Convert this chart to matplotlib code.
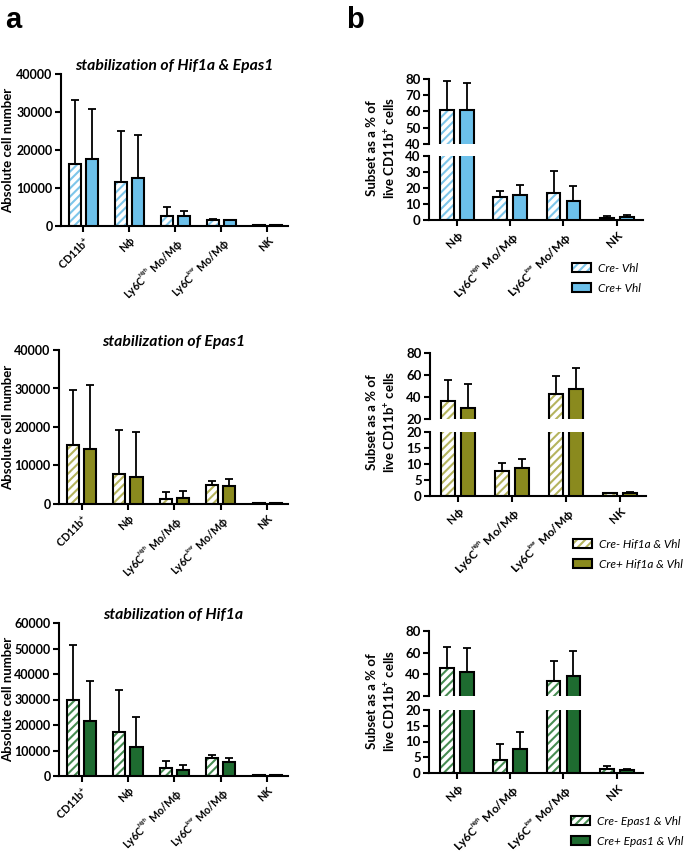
import matplotlib
matplotlib.use('Agg')
import matplotlib.pyplot as plt
import numpy as np
from matplotlib.patches import Patch

plt.rcParams['font.family'] = ['Lato', 'DejaVu Sans']
plt.rcParams['font.weight'] = 'bold'
plt.rcParams['mathtext.fontset'] = 'custom'
plt.rcParams['mathtext.rm'] = 'Lato:bold'
plt.rcParams['mathtext.it'] = 'Lato:bold:italic'
plt.rcParams['mathtext.bf'] = 'Lato:bold'
plt.rcParams['hatch.linewidth'] = 1.5

# ---------------- data ----------------
cats_a = ['CD11b$^{+}$', 'N\u03d5', 'Ly6C$^{{}^{high}}$ Mo/M\u03d5', 'Ly6C$^{{}^{low}}$ Mo/M\u03d5', 'NK']
cats_b = ['N\u03d5', 'Ly6C$^{{}^{high}}$ Mo/M\u03d5', 'Ly6C$^{{}^{low}}$ Mo/M\u03d5', 'NK']

titles_a = ['stabilization of Hif1a & Epas1', 'stabilization of Epas1', 'stabilization of Hif1a']

# panel a (absolute cell number): Cre- (hatched) and Cre+ (solid), mean and SD
a1_neg = [16200, 11600, 2500, 1600, 300]
a1_neg_sd = [17000, 13300, 2400, 150, 50]
a1_pos = [17700, 12500, 2600, 1500, 300]
a1_pos_sd = [13200, 11400, 1400, 100, 50]

a2_neg = [15400, 7700, 1400, 5000, 150]
a2_neg_sd = [14200, 11400, 1600, 1100, 30]
a2_pos = [14300, 7000, 1500, 4600, 150]
a2_pos_sd = [16600, 11800, 1900, 1800, 30]

a3_neg = [29800, 17100, 3300, 6900, 300]
a3_neg_sd = [21400, 16800, 2400, 1200, 50]
a3_pos = [21500, 11300, 2500, 5600, 300]
a3_pos_sd = [15700, 11900, 1800, 1400, 50]

# panel b (% of live CD11b+ cells)
b1_neg = [60.7, 14.6, 16.7, 1.5]
b1_neg_sd = [18.1, 3.5, 14.1, 1.0]
b1_pos = [60.9, 15.6, 12.1, 1.7]
b1_pos_sd = [16.8, 6.3, 9.4, 1.4]

b2_neg = [36.3, 7.9, 43.1, 0.9]
b2_neg_sd = [19.0, 2.4, 16.2, 0.1]
b2_pos = [30.1, 8.6, 47.0, 0.9]
b2_pos_sd = [21.7, 3.1, 19.4, 0.2]

b3_neg = [45.8, 4.2, 33.9, 1.3]
b3_neg_sd = [19.0, 5.0, 18.3, 0.8]
b3_pos = [42.1, 7.6, 38.8, 1.1]
b3_pos_sd = [22.4, 5.3, 22.6, 0.3]

legend_b = [['Cre- Vhl', 'Cre+ Vhl'],
            ['Cre- Hif1a & Vhl', 'Cre+ Hif1a & Vhl'],
            ['Cre- Epas1 & Vhl', 'Cre+ Epas1 & Vhl']]

# colours: (solid, hatch)
colors = [('#6CC0EA', '#7EC6EA'), ('#8A8A1E', '#B5B45E'), ('#1E6B30', '#478C52')]

# ---------------- layout ----------------
W, H = 685, 855
fig = plt.figure(figsize=(W / 100, H / 100), dpi=100)


def fr(l, t, r, b):
    return [l / W, 1 - b / H, (r - l) / W, (b - t) / H]


def style_ax(ax, lw=1.5, fs=7.5):
    for s in ['top', 'right']:
        ax.spines[s].set_visible(False)
    for s in ['left', 'bottom']:
        ax.spines[s].set_linewidth(lw)
    ax.tick_params(width=lw, length=4.5, labelsize=fs, pad=1.5)


def draw_bars(ax, x, neg, neg_sd, pos, pos_sd, col, hcol, width, off):
    neg = np.asarray(neg); pos = np.asarray(pos)
    ax.bar(x - off, neg, width, color='white', edgecolor=hcol, hatch='////', linewidth=0, zorder=2)
    ax.bar(x - off, neg, width, fill=False, edgecolor='black', linewidth=1.5, zorder=3)
    ax.bar(x + off, pos, width, color=col, edgecolor='black', linewidth=1.5, zorder=3)
    ax.errorbar(x - off, neg, yerr=[np.zeros_like(neg), neg_sd], fmt='none', ecolor='black',
                elinewidth=1.3, capsize=3, capthick=1.3, zorder=1)
    ax.errorbar(x + off, pos, yerr=[np.zeros_like(pos), pos_sd], fmt='none', ecolor='black',
                elinewidth=1.3, capsize=3, capthick=1.3, zorder=1)


# ---- panel a ----
a_data = [(a1_neg, a1_neg_sd, a1_pos, a1_pos_sd, 40000, 10000),
          (a2_neg, a2_neg_sd, a2_pos, a2_pos_sd, 40000, 10000),
          (a3_neg, a3_neg_sd, a3_pos, a3_pos_sd, 60000, 10000)]
a_rects = [(61, 74, 288, 226), (59, 350, 288, 504), (59, 623, 288, 776)]
a_title_y = [66, 342, 615]

xa = np.arange(len(cats_a))
for i, (d, rect) in enumerate(zip(a_data, a_rects)):
    ax = fig.add_axes(fr(*rect))
    neg, neg_sd, pos, pos_sd, ymax, step = d
    draw_bars(ax, xa, neg, neg_sd, pos, pos_sd, colors[i][0], colors[i][1], 0.26, 0.185)
    ax.set_xlim(-0.485, 4.45)
    ax.set_ylim(0, ymax)
    ax.set_yticks(np.arange(0, ymax + 1, step))
    ax.set_xticks(xa)
    ax.set_xticklabels(cats_a, rotation=45, ha='right', va='top', rotation_mode='anchor')
    style_ax(ax, fs=9)
    ax.tick_params(axis='x', pad=2, labelsize=7.7)
    cx = (rect[0] + rect[2]) / 2
    fig.text(cx / W, 1 - a_title_y[i] / H, titles_a[i], ha='center', va='center',
             fontsize=11.3, fontweight='bold', style='italic')
    fig.text(8 / W, 1 - ((rect[1] + rect[3]) / 2) / H, 'Absolute cell number', rotation=90,
             ha='center', va='center', fontsize=9.5, fontweight='bold')

# ---- panel b ----
b_data = [(b1_neg, b1_neg_sd, b1_pos, b1_pos_sd),
          (b2_neg, b2_neg_sd, b2_pos, b2_pos_sd),
          (b3_neg, b3_neg_sd, b3_pos, b3_pos_sd)]
b_upper = [(429, 79, 643, 144), (430, 353, 646, 419), (429, 631, 643, 696)]
b_lower = [(429, 156, 643, 220), (430, 432, 646, 496), (429, 710, 643, 773)]
b_break = [40, 20, 20]
b_upticks = [np.arange(40, 81, 10), np.arange(20, 81, 20), np.arange(20, 81, 20)]
b_lowticks = [np.arange(0, 41, 10), np.arange(0, 21, 5), np.arange(0, 21, 5)]
b_ylab_y = [148, 422, 701]
b_leg = [(572, 263), (573, 539), (571, 816)]

xb = np.arange(len(cats_b))
for i, d in enumerate(b_data):
    neg, neg_sd, pos, pos_sd = d
    axu = fig.add_axes(fr(*b_upper[i]))
    axl = fig.add_axes(fr(*b_lower[i]))
    for ax in (axu, axl):
        draw_bars(ax, xb, neg, neg_sd, pos, pos_sd, colors[i][0], colors[i][1], 0.26, 0.187)
        ax.set_xlim(-0.52, 3.49)
        style_ax(ax, fs=9.5)
    axu.set_ylim(b_break[i], 80)
    axu.set_yticks(b_upticks[i])
    axu.spines['bottom'].set_visible(False)
    axu.set_xticks([])
    axl.set_ylim(0, b_break[i])
    axl.set_yticks(b_lowticks[i])
    axl.set_xticks(xb)
    axl.set_xticklabels(cats_b, rotation=45, ha='right', va='top', rotation_mode='anchor')
    axl.tick_params(axis='x', pad=2, labelsize=8.5)
    fig.text(382 / W, 1 - b_ylab_y[i] / H, 'Subset as a % of\nlive CD11b$^{+}$ cells', rotation=90,
             ha='center', va='center', fontsize=9.5, fontweight='bold', linespacing=1.4,
             multialignment='center')
    h1 = (Patch(facecolor='white', edgecolor=colors[i][1], hatch='////', linewidth=0),
          Patch(fill=False, edgecolor='black', linewidth=1.5))
    h2 = Patch(facecolor=colors[i][0], edgecolor='black', linewidth=1.5)
    lx, ly = b_leg[i]
    fig.legend([h1, h2], legend_b[i], loc='upper left', bbox_to_anchor=(lx / W, 1 - ly / H),
               frameon=False, borderpad=0, borderaxespad=0, handlelength=1.6, handleheight=0.8,
               handletextpad=0.6, labelspacing=0.75,
               prop={'family': ['Lato', 'DejaVu Sans'], 'style': 'italic', 'weight': 'normal', 'size': 8.5})

fig.text(13 / W, 1 - 28 / H, 'a', fontsize=21, fontweight='bold', ha='center', va='baseline',
         family=['Liberation Sans', 'DejaVu Sans'])
fig.text(355 / W, 1 - 28 / H, 'b', fontsize=21, fontweight='bold', ha='center', va='baseline',
         family=['Liberation Sans', 'DejaVu Sans'])

fig.savefig('out.png', dpi=100)
